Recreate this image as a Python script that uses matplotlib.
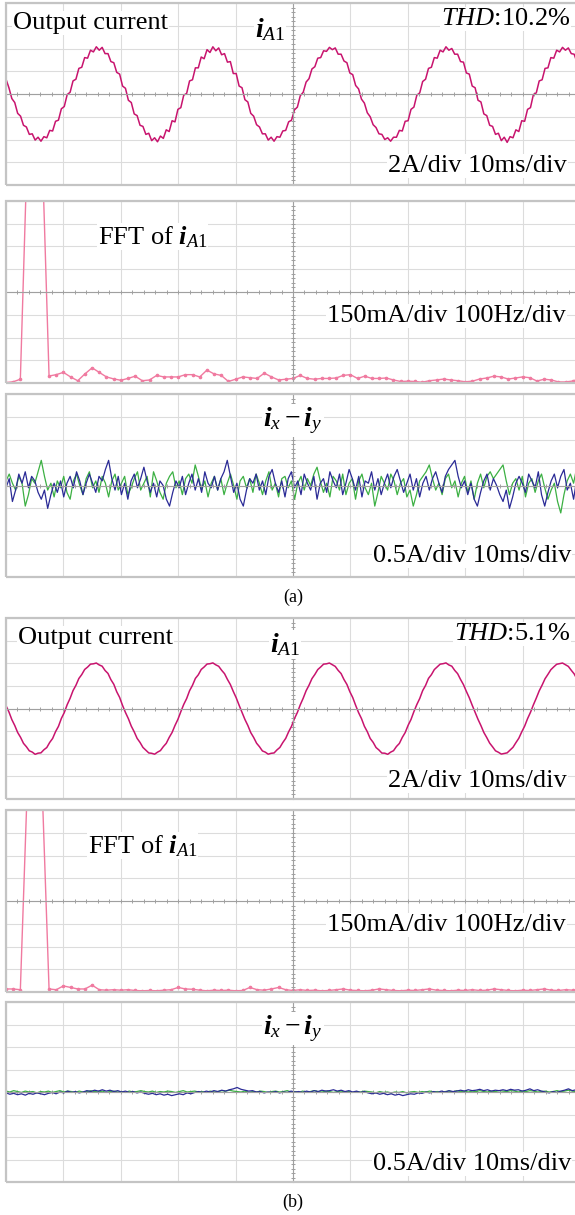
import matplotlib
matplotlib.use('Agg')
import matplotlib.pyplot as plt
import numpy as np
from matplotlib.ticker import MultipleLocator
from matplotlib.patches import Rectangle

plt.rcParams['font.family'] = ['Liberation Serif', 'DejaVu Serif']
plt.rcParams['mathtext.fontset'] = 'custom'
plt.rcParams['mathtext.rm'] = 'Liberation Serif'
plt.rcParams['mathtext.it'] = 'Liberation Serif:italic'
plt.rcParams['mathtext.bf'] = 'Liberation Serif:bold'
plt.rcParams['mathtext.bfit'] = 'Liberation Serif:italic:bold'

# ---------------- data read from the scope screens ----------------
# output current i_A1 (A), 100 ms window
iA1_a = [1.30, 0.55, -0.40, -0.75, -1.70, -1.95, -2.75, -2.90, -3.55, -3.50,
         -4.05, -3.80, -4.15, -3.75, -3.85, -3.20, -3.25, -2.40, -2.30, -1.30,
         -1.10, -0.05, 0.15, 1.15, 1.30, 2.25, 2.35, 3.20, 3.15, 3.85,
         3.70, 4.15, 3.85, 4.10, 3.55, 3.55, 2.85, 2.75, 1.90, 1.75,
         0.70, 0.50, -0.55, -0.75, -1.75, -1.90, -2.75, -2.85, -3.55, -3.45,
         -4.10, -3.85, -4.20, -3.70, -3.90, -3.15, -3.30, -2.35, -2.45, -1.35,
         -1.20, -0.10, 0.05, 1.15, 1.25, 2.30, 2.30, 3.25, 3.10, 3.90,
         3.65, 4.15, 3.80, 4.05, 3.45, 3.55, 2.80, 2.85, 1.80, 1.80,
         0.70, 0.55, -0.50, -0.70, -1.70, -1.95, -2.70, -2.90, -3.50, -3.50,
         -4.05, -3.80, -4.15, -3.75, -3.80, -3.25, -3.20, -2.45, -2.30, -1.40,
         -1.15, -0.15, 0.15, 1.05, 1.35, 2.20, 2.40, 3.15, 3.20, 3.80,
         3.75, 4.10, 3.90, 4.05, 3.50, 3.50, 2.90, 2.75, 1.85, 1.70,
         0.75, 0.45, -0.45, -0.80, -1.65, -2.00, -2.70, -2.95, -3.50, -3.55,
         -4.00, -3.85, -4.15, -3.80, -3.80, -3.20, -3.25, -2.40, -2.35, -1.35,
         -1.15, -0.10, 0.10, 1.10, 1.30, 2.25, 2.35, 3.20, 3.15, 3.85,
         3.70, 4.15, 3.85, 4.00, 3.50, 3.50, 2.85, 2.80, 1.85, 1.75,
         0.70, 0.55, -0.55, -0.70, -1.75, -1.90, -2.75, -2.85, -3.55, -3.45,
         -4.10, -3.80, -4.25, -3.75, -3.85, -3.15, -3.30, -2.35, -2.40, -1.35,
         -1.20, -0.05, 0.10, 1.15, 1.25, 2.25, 2.30, 3.20, 3.15, 3.85,
         3.70, 4.10, 3.85, 4.05, 3.55, 3.50, 2.75, 2.45]

iA1_b = [0.25, -0.30, -0.98, -1.50, -2.12, -2.55, -3.08, -3.38, -3.74, -3.85,
         -4.05, -3.95, -3.92, -3.65, -3.45, -3.00, -2.65, -2.05, -1.58, -0.88,
         -0.36, 0.34, 0.90, 1.58, 2.05, 2.65, 3.00, 3.45, 3.66, 3.92,
         3.95, 4.02, 3.85, 3.74, 3.36, 3.10, 2.55, 2.14, 1.48, 0.98,
         0.27, -0.35, -0.90, -1.56, -2.06, -2.64, -3.00, -3.44, -3.68, -3.93,
         -3.96, -4.04, -3.86, -3.72, -3.37, -3.08, -2.56, -2.12, -1.50, -0.96,
         -0.28, 0.36, 0.88, 1.57, 2.05, 2.66, 2.98, 3.45, 3.67, 3.93,
         3.96, 4.03, 3.86, 3.73, 3.38, 3.08, 2.57, 2.12, 1.51, 0.95,
         0.29, -0.34, -0.97, -1.50, -2.13, -2.56, -3.07, -3.38, -3.75, -3.86,
         -4.04, -3.96, -3.93, -3.66, -3.44, -3.01, -2.64, -2.06, -1.57, -0.89,
         -0.35, 0.33, 0.91, 1.57, 2.06, 2.64, 3.01, 3.44, 3.67, 3.92,
         3.95, 4.02, 3.87, 3.72, 3.37, 3.09, 2.56, 2.13, 1.49, 0.97,
         0.28, -0.36, -0.89, -1.57, -2.05, -2.65, -2.99, -3.45, -3.67, -3.94,
         -3.95, -4.05, -3.86, -3.73, -3.36, -3.09, -2.56, -2.13, -1.49, -0.97,
         -0.27, 0.35, 0.89, 1.58, 2.04, 2.66, 2.99, 3.44, 3.68, 3.92,
         3.96, 4.03, 3.85, 3.74, 3.37, 3.08, 2.57, 2.11, 1.51, 0.95,
         0.29, -0.33, -0.96, -1.51, -2.12, -2.57, -3.06, -3.39, -3.74, -3.87,
         -4.03, -3.97, -3.92, -3.67, -3.43, -3.02, -2.63, -2.07, -1.56, -0.90,
         -0.34, 0.32, 0.92, 1.56, 2.07, 2.63, 3.02, 3.43, 3.68, 3.91,
         3.96, 4.02, 3.87, 3.72, 3.38, 3.06, 2.58, 2.10]

# FFT magnitude (A), bins every 12.5 Hz from 0 to 1000 Hz
fft_bin_hz = 12.5
fft_a = [0.003, 0.008, 0.025, 1.6, 3.0, 1.6, 0.046, 0.055, 0.07, 0.04,
         0.015, 0.06, 0.10, 0.07, 0.04, 0.027, 0.018, 0.03, 0.045, 0.015,
         0.02, 0.05, 0.04, 0.04, 0.04, 0.055, 0.055, 0.04, 0.085, 0.06,
         0.05, 0.01, 0.025, 0.04, 0.035, 0.03, 0.065, 0.04, 0.02, 0.025,
         0.03, 0.05, 0.03, 0.025, 0.03, 0.03, 0.033, 0.05, 0.055, 0.03,
         0.045, 0.03, 0.03, 0.033, 0.02, 0.01, 0.012, 0.01, 0.005, 0.015,
         0.02, 0.026, 0.02, 0.015, 0.008, 0.012, 0.026, 0.033, 0.045, 0.04,
         0.026, 0.033, 0.04, 0.035, 0.013, 0.025, 0.02, 0.007, 0.007, 0.013,
         0.03]
fft_b = [0.02, 0.02, 0.015, 1.4, 3.0, 1.4, 0.02, 0.015, 0.04, 0.03,
         0.02, 0.02, 0.045, 0.015, 0.012, 0.015, 0.012, 0.015, 0.01, 0.008,
         0.01, 0.008, 0.012, 0.015, 0.03, 0.02, 0.018, 0.012, 0.008, 0.012,
         0.01, 0.012, 0.008, 0.01, 0.03, 0.015, 0.012, 0.02, 0.03, 0.015,
         0.01, 0.015, 0.01, 0.012, 0.008, 0.01, 0.015, 0.02, 0.012, 0.01,
         0.008, 0.012, 0.02, 0.015, 0.01, 0.008, 0.012, 0.01, 0.015, 0.02,
         0.012, 0.01, 0.008, 0.012, 0.01, 0.015, 0.01, 0.012, 0.02, 0.015,
         0.01, 0.008, 0.012, 0.01, 0.015, 0.02, 0.012, 0.01, 0.015, 0.012,
         0.01]

# circulating current i_x - i_y (A), 100 ms window
ixy_green_a = [0.10, 0.25, 0.05, -0.10, 0.20, 0.05, -0.45, -0.20, 0.15, 0.05,
               0.30, 0.55, 0.20, -0.10, 0.05, -0.25, 0.10, -0.05, 0.20, -0.15,
               -0.30, 0.10, 0.25, 0.00, -0.20, 0.15, 0.30, -0.05, 0.10, -0.15,
               0.20, 0.05, -0.25, 0.10, 0.25, -0.10, 0.05, 0.20, -0.20, -0.05,
               0.15, 0.30, -0.10, 0.05, 0.20, -0.25, 0.30, 0.10, -0.15, -0.30,
               0.05, 0.20, 0.30, -0.05, 0.10, -0.20, 0.15, 0.25, 0.05, 0.45,
               0.20, -0.10, 0.10, -0.25, 0.05, 0.20, -0.10, 0.15, -0.20, 0.05,
               0.25, 0.00, -0.30, 0.10, 0.20, -0.05, 0.15, -0.15, 0.25, 0.05,
               -0.20, 0.10, 0.30, -0.10, 0.05, -0.25, 0.15, 0.20, -0.05, 0.10,
               -0.30, 0.05, 0.20, -0.10, 0.15, 0.00, 0.25, 0.40, 0.10, -0.15,
               0.05, -0.25, 0.20, 0.10, -0.10, 0.25, -0.20, 0.05, 0.15, -0.30,
               0.10, 0.25, -0.05, -0.20, 0.05, -0.45, -0.15, 0.20, 0.05, -0.10,
               0.25, 0.10, -0.20, 0.05, 0.15, -0.25, -0.10, -0.45, -0.20, 0.10,
               0.20, 0.30, 0.45, 0.15, -0.10, 0.05, -0.20, 0.15, 0.25, -0.05,
               0.10, -0.25, 0.05, 0.20, -0.15, 0.10, -0.30, 0.05, 0.25, -0.05,
               0.20, 0.30, 0.15, 0.25, 0.35, 0.45, 0.10, -0.20, 0.05, 0.15,
               -0.10, 0.20, -0.25, 0.05, 0.15, -0.15, 0.10, 0.25, -0.05, -0.30,
               -0.10, 0.05, -0.35, -0.60, -0.20, 0.10, 0.25, 0.05, 0.40, 0.15]
ixy_blue_a = [-0.05, 0.15, -0.35, -0.10, 0.25, 0.05, 0.30, -0.05, 0.20, 0.10,
              -0.15, -0.30, -0.10, -0.50, -0.20, 0.05, -0.15, 0.10, -0.25, 0.05,
              0.20, -0.05, 0.30, 0.10, -0.20, 0.05, 0.25, 0.05, -0.15, 0.20,
              0.10, 0.35, 0.55, 0.15, -0.10, 0.20, -0.20, 0.05, -0.30, 0.10,
              0.25, -0.05, 0.15, 0.40, 0.10, -0.15, 0.05, -0.25, 0.10, 0.00,
              -0.30, -0.45, -0.15, 0.10, -0.05, 0.20, -0.20, 0.05, 0.25, -0.10,
              0.15, -0.15, 0.30, 0.05, -0.05, 0.20, -0.10, 0.15, 0.30, 0.55,
              0.20, -0.15, 0.05, -0.30, -0.45, -0.10, 0.15, 0.05, 0.25, -0.10,
              0.10, -0.20, 0.20, 0.35, 0.05, -0.15, 0.10, -0.25, 0.15, 0.30,
              -0.05, 0.10, -0.20, 0.25, 0.05, -0.10, 0.20, -0.30, 0.05, 0.15,
              -0.15, 0.30, 0.10, -0.05, 0.25, -0.20, 0.05, 0.35, 0.15, -0.10,
              0.20, -0.25, 0.10, 0.05, 0.30, -0.10, 0.15, -0.20, 0.05, 0.25,
              -0.05, 0.20, 0.35, 0.10, -0.15, 0.05, 0.25, -0.10, 0.15, -0.25,
              0.05, 0.20, -0.10, 0.15, 0.30, 0.05, -0.15, 0.20, 0.35, 0.45,
              0.55, 0.20, -0.05, 0.10, -0.20, 0.05, -0.30, -0.45, -0.15, 0.10,
              0.25, -0.10, 0.15, 0.00, -0.20, -0.35, -0.10, -0.50, -0.25, 0.05,
              0.20, 0.05, -0.15, 0.25, 0.10, -0.05, 0.30, -0.20, -0.45, -0.15,
              0.10, 0.25, -0.05, 0.20, 0.35, -0.10, 0.05, -0.30, 0.15, 0.05]

ixy_green_b = [0.02, 0.00, 0.03, 0.01, -0.01, 0.02, 0.00, 0.01, -0.02, 0.01,
               0.00, 0.02, -0.01, 0.01, 0.03, 0.00, 0.02, 0.01, -0.01, 0.02,
               0.00, 0.01, 0.03, 0.01, 0.00, 0.02, -0.01, 0.01, 0.02, 0.00,
               0.01, -0.01, 0.02, 0.00, 0.01, 0.03, 0.01, 0.00, 0.02, -0.01,
               0.01, 0.00, 0.02, 0.01, -0.01, 0.01, 0.03, 0.00, 0.01, 0.02,
               0.00, 0.01, -0.01, 0.02, 0.00, 0.01, 0.03, 0.02, 0.04, 0.02,
               0.01, 0.00, 0.02, -0.01, 0.01, 0.00, 0.02, 0.01, -0.01, 0.01,
               0.02, 0.00, 0.01, 0.03, 0.00, 0.01, -0.01, 0.02, 0.00, 0.01,
               0.03, 0.01, 0.00, 0.02, 0.01, -0.01, 0.01, 0.02, 0.00, 0.01,
               -0.01, 0.01, 0.00, 0.02, 0.01, 0.00, -0.02, 0.01, -0.01, 0.00,
               -0.02, 0.00, -0.01, 0.01, -0.02, 0.00, 0.01, -0.01, 0.01, 0.00,
               0.02, 0.00, 0.01, -0.01, 0.01, 0.02, 0.00, 0.03, 0.01, 0.02,
               0.00, 0.02, 0.01, 0.03, 0.01, 0.00, 0.02, 0.01, 0.03, 0.02,
               0.01, 0.03, 0.02, 0.00, 0.02, 0.01, 0.03, 0.02, 0.00, 0.01,
               0.02, 0.00, 0.01, 0.03, 0.01, 0.02, 0.04, 0.02, 0.01, 0.03]
ixy_blue_b = [-0.02, -0.05, -0.03, -0.06, -0.04, -0.07, -0.03, -0.05, -0.02, -0.04,
              -0.06, -0.03, -0.01, -0.04, 0.00, -0.02, 0.02, -0.01, 0.01, -0.02,
              0.00, 0.03, 0.01, 0.04, 0.02, 0.05, 0.02, 0.04, 0.01, 0.03,
              0.00, 0.02, -0.01, 0.01, -0.02, 0.00, -0.03, -0.05, -0.03, -0.06,
              -0.04, -0.07, -0.05, -0.08, -0.06, -0.04, -0.06, -0.02, -0.04, -0.01,
              0.01, -0.01, 0.02, 0.00, 0.03, 0.01, 0.04, 0.02, 0.05, 0.07,
              0.10, 0.06, 0.04, 0.02, 0.03, 0.00, 0.01, -0.02, 0.00, -0.01,
              0.01, -0.02, 0.00, -0.01, 0.02, 0.00, 0.01, -0.01, 0.02, 0.00,
              0.03, 0.01, 0.04, 0.02, 0.03, 0.05, 0.02, 0.04, 0.01, 0.03,
              0.00, 0.02, -0.01, 0.01, -0.02, -0.04, -0.02, -0.05, -0.03, -0.06,
              -0.04, -0.07, -0.05, -0.08, -0.06, -0.04, -0.05, -0.02, -0.03, 0.00,
              -0.02, 0.01, -0.01, 0.02, 0.00, 0.03, 0.01, 0.02, 0.04, 0.02,
              0.05, 0.03, 0.04, 0.06, 0.03, 0.05, 0.02, 0.04, 0.03, 0.05,
              0.03, 0.06, 0.04, 0.05, 0.02, 0.04, 0.07, 0.03, 0.05, 0.02,
              0.00, -0.02, 0.01, -0.01, 0.02, 0.04, 0.07, 0.03, 0.05, 0.04]

thd_labels = ['10.2%', '5.1%']

# ---------------- layout ----------------
W, H = 575, 1215
fig = plt.figure(figsize=(W / 100, H / 100), dpi=100)

border_c = '#c4c4c4'
grid_c = '#dcdcdc'
center_c = '#a0a0a0'
cur_c = '#c8146e'
fft_c = '#f07aa0'
green_c = '#3cb043'
blue_c = '#2a2a96'


def panel(top, bottom):
    # pixel box -> axes; scope screen is cut at the right edge of the picture
    return fig.add_axes([6 / W, 1 - bottom / H, 574 / W, (bottom - top) / H])


def scope(ax, xdiv, ydiv, ylow):
    ax.set_xlim(0, 10 * xdiv)
    ax.set_ylim(ylow, ylow + 8 * ydiv)
    ax.xaxis.set_major_locator(MultipleLocator(xdiv))
    ax.yaxis.set_major_locator(MultipleLocator(ydiv))
    ax.xaxis.set_minor_locator(MultipleLocator(xdiv / 5))
    ax.yaxis.set_minor_locator(MultipleLocator(ydiv / 5))
    ax.grid(True, which='major', color=grid_c, lw=0.8)
    ax.set_axisbelow(True)
    ax.spines['left'].set_position(('data', 5 * xdiv))
    ax.spines['bottom'].set_position(('data', ylow + 4 * ydiv))
    for s in ('left', 'bottom'):
        ax.spines[s].set_color(center_c)
        ax.spines[s].set_linewidth(0.8)
    ax.spines['top'].set_visible(False)
    ax.spines['right'].set_visible(False)
    ax.tick_params(which='both', direction='inout', length=3.5, width=0.7,
                   color=center_c, labelbottom=False, labelleft=False)
    ax.add_patch(Rectangle((0, 0), 1, 1, transform=ax.transAxes, fill=False,
                           ec=border_c, lw=1.6, clip_on=False, zorder=5))


def label(x, y, s, size=19, ha='left'):
    fig.text(x / W, 1 - y / H, s, fontsize=size, ha=ha, va='baseline',
             zorder=10, bbox=dict(fc='white', ec='none', pad=0.5))


def block(tops, iA1, fft, g, b, thd, offs):
    a1 = panel(*tops[0])
    scope(a1, 10, 2, -8)
    t = np.linspace(0, 100, len(iA1))
    a1.plot(t, iA1, color=cur_c, lw=1.1)

    a2 = panel(*tops[1])
    scope(a2, 100, 0.15, 0)
    f = np.arange(len(fft)) * fft_bin_hz
    a2.plot(f, fft, color=fft_c, lw=1.0, marker='o', ms=1.6)

    a3 = panel(*tops[2])
    scope(a3, 10, 0.5, -2)
    tg = np.linspace(0, 100, len(g))
    a3.plot(tg, g, color=green_c, lw=0.9)
    a3.plot(tg, b, color=blue_c, lw=0.9)

    p1, p2, p3 = [tp[0] for tp in tops]
    label(offs[0], p1 + 26, 'Output current')
    label(offs[1], p1 + 34, r'$\mathbfit{i}_{A1}$', size=20)
    label(570, p1 + 22, r'$THD$:' + thd, ha='right')
    label(567, p1 + 169, '2A/div 10ms/div', ha='right')
    label(offs[2], p2 + 43, r'FFT of $\mathbfit{i}_{A1}$')
    label(566, p2 + 121, '150mA/div 100Hz/div', ha='right')
    label(293, p3 + 32, r'$\mathbfit{i}_x-\mathbfit{i}_y$', size=20, ha='center')
    label(571, p3 + 168, '0.5A/div 10ms/div', ha='right')


block([(3, 185), (201, 383), (394, 577)], iA1_a, fft_a,
      ixy_green_a, ixy_blue_a, thd_labels[0], (13, 255, 98))
block([(618, 799), (810, 992), (1002, 1182)], iA1_b, fft_b,
      ixy_green_b, ixy_blue_b, thd_labels[1], (18, 270, 88))

fig.text(293 / W, 1 - 602 / H, '(a)', fontsize=13, ha='center', va='baseline')
fig.text(293 / W, 1 - 1207 / H, '(b)', fontsize=13, ha='center', va='baseline')

fig.savefig('out.png', dpi=100, facecolor='white')
